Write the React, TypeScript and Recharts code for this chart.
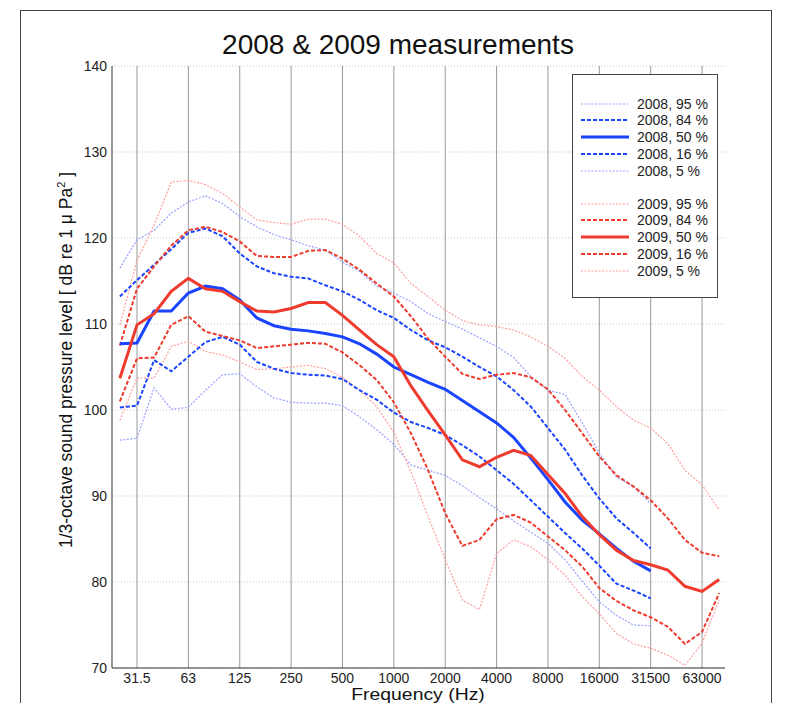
import { CartesianGrid, Line, LineChart, ReferenceLine, XAxis, YAxis } from "recharts";

// 1/3-octave band centre frequencies (Hz)
const bands = [
  "25", "31.5", "40", "50", "63", "80", "100", "125", "160", "200", "250", "315",
  "400", "500", "630", "800", "1000", "1250", "1600", "2000", "2500", "3150", "4000", "5000",
  "6300", "8000", "10000", "12500", "16000", "20000", "25000", "31500", "40000", "50000", "63000", "80000",
];
const tickBands = ["31.5", "63", "125", "250", "500", "1000", "2000", "4000", "8000", "16000", "31500", "63000"];
const yTicks = [70, 80, 90, 100, 110, 120, 130, 140];

// 2008 percentiles (dB), bands 25 Hz .. 31.5 kHz
const y2008p95 = [116.5, 119.8, 120.9, 122.9, 124.2, 124.9, 124.0, 122.5, 121.3, 120.4, 119.8, 119.1, 118.6, 117.2, 116.1, 114.4, 113.6, 112.6, 111.2, 110.3, 109.4, 108.4, 107.4, 106.1, 103.9, 102.3, 101.8, 98.5, 95.0, 92.2, 91.1, 89.1];
const y2008p84 = [113.2, 115.1, 116.9, 118.7, 120.6, 121.1, 120.2, 118.2, 116.7, 115.9, 115.5, 115.3, 114.5, 113.8, 112.8, 111.6, 110.7, 109.3, 108.1, 107.3, 106.2, 105.0, 103.9, 102.3, 100.4, 97.9, 95.4, 92.4, 89.7, 87.4, 85.7, 83.9];
const y2008p50 = [107.7, 107.8, 111.5, 111.5, 113.6, 114.4, 114.1, 112.8, 110.7, 109.8, 109.4, 109.2, 108.9, 108.5, 107.7, 106.5, 105.0, 104.1, 103.2, 102.4, 101.1, 99.8, 98.5, 96.8, 94.4, 91.9, 89.3, 87.2, 85.6, 83.9, 82.4, 81.3];
const y2008p16 = [100.3, 100.5, 105.8, 104.5, 106.2, 107.9, 108.5, 107.6, 105.6, 104.8, 104.3, 104.1, 104.0, 103.6, 102.3, 101.2, 99.7, 98.6, 97.9, 97.1, 95.9, 94.6, 93.0, 91.4, 89.5, 87.6, 85.7, 83.9, 81.9, 79.8, 79.0, 78.1];
const y2008p5 = [96.5, 96.7, 102.6, 100.1, 100.3, 102.3, 104.1, 104.2, 102.7, 101.4, 100.9, 100.8, 100.8, 100.5, 99.2, 97.7, 96.0, 93.6, 93.0, 92.4, 91.2, 89.8, 88.5, 87.1, 85.8, 84.5, 82.6, 80.1, 77.7, 76.1, 75.0, 74.9];

// 2009 percentiles (dB), bands 25 Hz .. 80 kHz
const y2009p95 = [109.9, 117.4, 121.5, 126.5, 126.7, 126.2, 125.2, 123.6, 122.1, 121.8, 121.6, 122.2, 122.2, 121.6, 120.2, 118.2, 117.1, 114.7, 113.2, 111.6, 110.4, 109.9, 109.7, 109.3, 108.5, 107.4, 106.0, 103.9, 102.3, 100.4, 98.8, 97.9, 96.1, 93.0, 91.3, 88.4];
const y2009p84 = [107.5, 114.1, 116.7, 119.1, 120.9, 121.3, 120.7, 119.6, 117.9, 117.8, 117.8, 118.5, 118.6, 117.6, 116.3, 114.7, 113.2, 110.9, 108.3, 106.2, 104.2, 103.6, 104.1, 104.3, 103.8, 102.4, 100.0, 97.3, 94.6, 92.4, 91.1, 89.5, 87.4, 84.9, 83.4, 83.0];
const y2009p50 = [103.7, 109.9, 111.2, 113.8, 115.3, 114.1, 113.8, 112.6, 111.5, 111.4, 111.8, 112.5, 112.5, 111.0, 109.3, 107.6, 106.2, 102.8, 99.9, 97.1, 94.2, 93.4, 94.5, 95.3, 94.7, 92.5, 90.3, 87.6, 85.5, 83.7, 82.5, 82.0, 81.4, 79.5, 78.9, 80.3];
const y2009p16 = [101.0, 106.0, 106.1, 109.9, 110.9, 109.1, 108.6, 108.1, 107.2, 107.4, 107.6, 107.8, 107.7, 106.7, 105.2, 103.5, 100.9, 97.3, 93.0, 88.0, 84.2, 84.9, 87.3, 87.8, 86.9, 85.3, 83.7, 81.8, 79.3, 77.8, 76.7, 75.9, 74.8, 72.8, 74.2, 78.7];
const y2009p5 = [98.8, 103.7, 103.7, 107.4, 108.0, 106.8, 106.4, 105.6, 104.7, 104.8, 105.0, 105.2, 104.8, 103.8, 102.3, 100.4, 97.4, 92.8, 87.6, 82.6, 77.9, 76.8, 83.3, 84.9, 84.1, 82.6, 80.8, 78.3, 76.3, 74.0, 72.8, 72.3, 71.5, 70.3, 72.9, 77.9];

const LIGHT_BLUE = "#98a2ff";
const BLUE = "#1a44ff";
const LIGHT_RED = "#ff9f9f";
const RED = "#ee3b2e";

const series = [
  { key: "b95", label: "2008, 95 %", values: y2008p95, color: LIGHT_BLUE, width: 1.2, dash: "2 1.5" },
  { key: "b84", label: "2008, 84 %", values: y2008p84, color: BLUE, width: 2, dash: "4 2" },
  { key: "b50", label: "2008, 50 %", values: y2008p50, color: BLUE, width: 3, dash: undefined },
  { key: "b16", label: "2008, 16 %", values: y2008p16, color: BLUE, width: 2, dash: "4 2" },
  { key: "b5", label: "2008, 5 %", values: y2008p5, color: LIGHT_BLUE, width: 1.2, dash: "2 1.5" },
  { key: "r95", label: "2009, 95 %", values: y2009p95, color: LIGHT_RED, width: 1.2, dash: "2 1.5" },
  { key: "r84", label: "2009, 84 %", values: y2009p84, color: RED, width: 2, dash: "4 2" },
  { key: "r50", label: "2009, 50 %", values: y2009p50, color: RED, width: 3, dash: undefined },
  { key: "r16", label: "2009, 16 %", values: y2009p16, color: RED, width: 2, dash: "4 2" },
  { key: "r5", label: "2009, 5 %", values: y2009p5, color: LIGHT_RED, width: 1.2, dash: "2 1.5" },
];

// draw light lines first, then dashed, then medians on top
const drawOrder = [0, 4, 5, 9, 1, 3, 6, 8, 2, 7];

const data = bands.map((b, i) => {
  const row: Record<string, number | string | undefined> = { i, band: b };
  series.forEach((s) => {
    row[s.key] = s.values[i];
  });
  return row;
});

const tickIdx = tickBands.map((b) => bands.indexOf(b));
const font = '"Liberation Sans", Arial, Helvetica, sans-serif';

function LegendBox() {
  return (
    <div
      style={{
        position: "absolute",
        left: 572,
        top: 74,
        width: 144,
        height: 222,
        border: "1px solid #444",
        background: "#fff",
        fontSize: 14,
        color: "#222",
      }}
    >
      {series.map((s, k) => {
        const cy = (k < 5 ? 28.7 + 16.7 * k : 128.7 + 16.7 * (k - 5));
        return (
          <div key={s.key} style={{ position: "absolute", left: 0, top: cy - 9, height: 18, width: 144 }}>
            <svg width={50} height={18} style={{ position: "absolute", left: 7, top: 0 }}>
              <line x1={1} x2={49} y1={9} y2={9} stroke={s.color} strokeWidth={s.width} strokeDasharray={s.dash} />
            </svg>
            <span style={{ position: "absolute", left: 64, top: 1, lineHeight: "16px", whiteSpace: "nowrap" }}>{s.label}</span>
          </div>
        );
      })}
    </div>
  );
}

export default function App() {
  return (
    <div
      style={{
        position: "relative",
        width: 788,
        height: 711,
        margin: -8,
        background: "#fff",
        overflow: "hidden",
        fontFamily: font,
      }}
    >
      <div
        style={{
          position: "absolute",
          left: 20,
          top: 10,
          width: 750,
          height: 740,
          border: "1px solid #444",
        }}
      />
      <div
        style={{
          position: "absolute",
          left: 398,
          top: 45,
          transform: "translate(-50%, -50%)",
          fontSize: 28,
          color: "#111",
          whiteSpace: "nowrap",
        }}
      >
        2008 &amp; 2009 measurements
      </div>
      <div
        style={{
          position: "absolute",
          left: 66,
          top: 360,
          transform: "translate(-50%, -50%) rotate(-90deg)",
          fontSize: 17.5,
          color: "#111",
          whiteSpace: "nowrap",
        }}
      >
        1/3-octave sound pressure level [ dB re 1 μ Pa<sup style={{ fontSize: 11 }}>2</sup> ]
      </div>
      <div
        style={{
          position: "absolute",
          left: 418,
          top: 688,
          transform: "translateX(-50%) scaleX(1.14)",
          fontSize: 17,
          lineHeight: "14px",
          color: "#111",
          whiteSpace: "nowrap",
        }}
      >
        Frequency (Hz)
      </div>
      <div style={{ position: "absolute", left: 0, top: 0 }}>
        <LineChart
          width={788}
          height={711}
          data={data}
          margin={{ top: 66, right: 63, bottom: 13, left: 72 }}
        >
          <CartesianGrid vertical={false} stroke="#c8c8c8" strokeDasharray="1 2" />
          {tickIdx.map((t) => (
            <ReferenceLine key={t} x={t} stroke="#9a9a9a" strokeWidth={1} />
          ))}
          <XAxis
            dataKey="i"
            type="number"
            domain={[-0.46, 35.34]}
            ticks={tickIdx}
            tickFormatter={(v: number) => bands[v]}
            allowDataOverflow
            height={30}
            tickLine={false}
            tickSize={4}
            tickMargin={1}
            axisLine={{ stroke: "#333" }}
            tick={{ fontSize: 14, fill: "#222", fontFamily: font }}
            interval={0}
          />
          <XAxis
            xAxisId="top"
            dataKey="i"
            type="number"
            orientation="top"
            domain={[-0.46, 35.34]}
            height={0}
            tick={false}
            tickLine={false}
            axisLine={{ stroke: "#333" }}
          />
          <YAxis
            domain={[70, 140]}
            ticks={yTicks}
            width={40}
            tickLine={false}
            tickSize={2}
            tickMargin={3}
            axisLine={{ stroke: "#333" }}
            tick={{ fontSize: 14, fill: "#222", fontFamily: font }}
            interval={0}
          />
          <YAxis
            yAxisId="right"
            orientation="right"
            domain={[70, 140]}
            width={0}
            tick={false}
            tickLine={false}
            axisLine={{ stroke: "#333" }}
          />
          {drawOrder.map((k) => {
            const s = series[k];
            return (
              <Line
                key={s.key}
                type="linear"
                dataKey={s.key}
                stroke={s.color}
                strokeWidth={s.width}
                strokeDasharray={s.dash}
                dot={false}
                activeDot={false}
                isAnimationActive={false}
              />
            );
          })}
        </LineChart>
      </div>
      <LegendBox />
    </div>
  );
}
